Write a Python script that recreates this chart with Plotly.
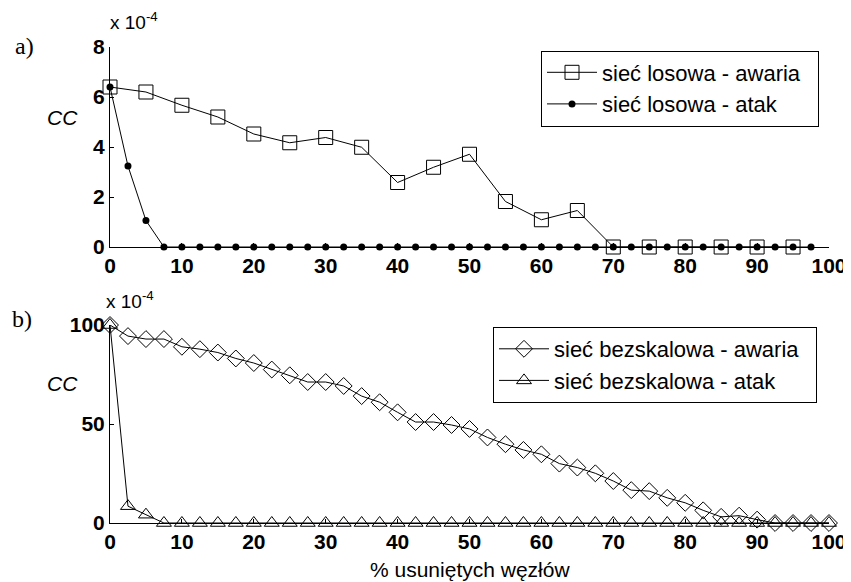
import plotly.graph_objects as go

# ---- data ----
# a) random network
x_random_fail = [0, 5, 10, 15, 20, 25, 30, 35, 40, 45, 50, 55, 60, 65, 70, 75, 80, 85, 90, 95]
cc_random_fail = [6.4, 6.2, 5.67, 5.2, 4.52, 4.17, 4.38, 3.99, 2.58, 3.19, 3.71, 1.82, 1.09, 1.46,
                  0, 0, 0, 0, 0, 0]
x_random_attack = [0, 2.5, 5, 7.5, 10, 12.5, 15, 17.5, 20, 22.5, 25, 27.5, 30, 32.5, 35, 37.5,
                   40, 42.5, 45, 47.5, 50, 52.5, 55, 57.5, 60, 62.5, 65, 67.5, 70, 72.5, 75, 77.5,
                   80, 82.5, 85, 87.5, 90, 92.5, 95, 97.5]
cc_random_attack = [6.4, 3.24, 1.06, 0, 0, 0, 0, 0, 0, 0, 0, 0, 0, 0, 0, 0,
                    0, 0, 0, 0, 0, 0, 0, 0, 0, 0, 0, 0, 0, 0, 0, 0,
                    0, 0, 0, 0, 0, 0, 0, 0]

# b) scale-free network
x_sf = [0, 2.5, 5, 7.5, 10, 12.5, 15, 17.5, 20, 22.5, 25, 27.5, 30, 32.5, 35, 37.5,
        40, 42.5, 45, 47.5, 50, 52.5, 55, 57.5, 60, 62.5, 65, 67.5, 70, 72.5, 75, 77.5,
        80, 82.5, 85, 87.5, 90, 92.5, 95, 97.5, 100]
cc_sf_fail = [100, 94.4, 92.9, 92.9, 89.0, 87.8, 86.1, 83.1, 80.8, 77.5, 74.6, 71.2, 71.2, 69.2,
              64.1, 61.0, 55.9, 51.0, 51.0, 49.5, 47.5, 43.2, 39.8, 36.9, 34.7, 30.0, 28.0, 25.1,
              21.2, 16.6, 16.1, 12.7, 10.2, 6.4, 3.1, 3.7, 1.7, 0, 0, 0, 0]
cc_sf_attack = [100, 8.5, 4.2, 0, 0, 0, 0, 0, 0, 0, 0, 0, 0, 0, 0, 0,
                0, 0, 0, 0, 0, 0, 0, 0, 0, 0, 0, 0, 0, 0, 0, 0,
                0, 0, 0, 0, 0, 0, 0, 0, 0]

x_ticks = [0, 10, 20, 30, 40, 50, 60, 70, 80, 90, 100]
y_ticks_a = [0, 2, 4, 6, 8]
y_ticks_b = [0, 50, 100]

names = ["sieć losowa - awaria", "sieć losowa - atak",
         "sieć bezskalowa - awaria", "sieć bezskalowa - atak"]

# ---- figure ----
# the page body has an 8px margin, so the figure is shifted by OFF and sized to fit the window
OFF = 8
W, H = 851 - OFF, 582 - OFF
FONT = "Liberation Sans, Arial, Helvetica, sans-serif"
BLACK = "black"
PAD = "\u00a0\u00a0"

fig = go.Figure()

fig.add_trace(go.Scatter(
    x=x_random_fail, y=cc_random_fail, name=names[0] + PAD, mode="lines+markers",
    line=dict(color=BLACK, width=1),
    marker=dict(symbol="square-open", size=14, color=BLACK, line=dict(width=1, color=BLACK)),
    cliponaxis=False, xaxis="x", yaxis="y", legend="legend"))
fig.add_trace(go.Scatter(
    x=x_random_attack, y=cc_random_attack, name=names[1] + PAD, mode="lines+markers",
    line=dict(color=BLACK, width=1),
    marker=dict(symbol="circle", size=7, color=BLACK),
    cliponaxis=False, xaxis="x", yaxis="y", legend="legend"))
fig.add_trace(go.Scatter(
    x=x_sf, y=cc_sf_fail, name=names[2] + PAD, mode="lines+markers",
    line=dict(color=BLACK, width=1),
    marker=dict(symbol="diamond-open", size=13, color=BLACK, line=dict(width=1, color=BLACK)),
    cliponaxis=False, xaxis="x2", yaxis="y2", legend="legend2"))
fig.add_trace(go.Scatter(
    x=x_sf, y=cc_sf_attack, name=names[3] + PAD, mode="lines+markers",
    line=dict(color=BLACK, width=1),
    marker=dict(symbol="triangle-up-open", size=13, color=BLACK, line=dict(width=1, color=BLACK)),
    cliponaxis=False, xaxis="x2", yaxis="y2", legend="legend2"))


def px_x(p):
    return (p - OFF) / W


def px_y(p):
    return (H - (p - OFF)) / H


xdom = [px_x(110), px_x(829)]
axis_common = dict(
    showline=True, linecolor=BLACK, linewidth=1, mirror=False,
    ticks="inside", ticklen=4, tickcolor=BLACK, tickwidth=1,
    showgrid=False, zeroline=False, automargin=False,
    tickfont=dict(family=FONT, size=21, color=BLACK, weight="bold"),
)

legend_common = dict(
    xanchor="right", yanchor="middle", bgcolor="white", bordercolor=BLACK, borderwidth=1,
    font=dict(family=FONT, size=22, color=BLACK), tracegroupgap=0, itemwidth=50,
)

fig.update_layout(
    width=W, height=H,
    margin=dict(l=0, r=0, t=0, b=0, autoexpand=False),
    paper_bgcolor="white", plot_bgcolor="white",
    font=dict(family=FONT, color=BLACK),
    xaxis=dict(domain=xdom, range=[0, 100], tickvals=x_ticks, anchor="y", **axis_common),
    yaxis=dict(domain=[px_y(247), px_y(47)], range=[0, 8], tickvals=y_ticks_a, anchor="x",
               **axis_common),
    xaxis2=dict(domain=xdom, range=[0, 100], tickvals=x_ticks, anchor="y2", **axis_common),
    yaxis2=dict(domain=[px_y(523), px_y(325)], range=[0, 100], tickvals=y_ticks_b, anchor="x2",
                **axis_common),
    legend=dict(x=px_x(819), y=px_y(88.5), **legend_common),
    legend2=dict(x=px_x(817), y=px_y(365), **legend_common),
    showlegend=True,
)

ann = []
ann.append(dict(text="a)", x=px_x(13), y=px_y(46), xanchor="left", yanchor="middle",
                font=dict(family="Liberation Serif, Times New Roman, serif", size=24)))
ann.append(dict(text="b)", x=px_x(10), y=px_y(319), xanchor="left", yanchor="middle",
                font=dict(family="Liberation Serif, Times New Roman, serif", size=24)))
ann.append(dict(text="x 10<sup>-4</sup>", x=px_x(108), y=px_y(35), xanchor="left", yanchor="bottom",
                font=dict(family=FONT, size=19)))
ann.append(dict(text="x 10<sup>-4</sup>", x=px_x(104), y=px_y(314), xanchor="left", yanchor="bottom",
                font=dict(family=FONT, size=19)))
ann.append(dict(text="<i>CC</i>", x=px_x(62), y=px_y(118), xanchor="center", yanchor="middle",
                font=dict(family=FONT, size=21)))
ann.append(dict(text="<i>CC</i>", x=px_x(62), y=px_y(384), xanchor="center", yanchor="middle",
                font=dict(family=FONT, size=21)))
ann.append(dict(text="% usuniętych węzłów", x=px_x(470), y=px_y(569), xanchor="center",
                yanchor="middle", font=dict(family=FONT, size=21)))
for a in ann:
    a.update(xref="paper", yref="paper", showarrow=False)
fig.update_layout(annotations=ann)

fig.write_html("out.html")
